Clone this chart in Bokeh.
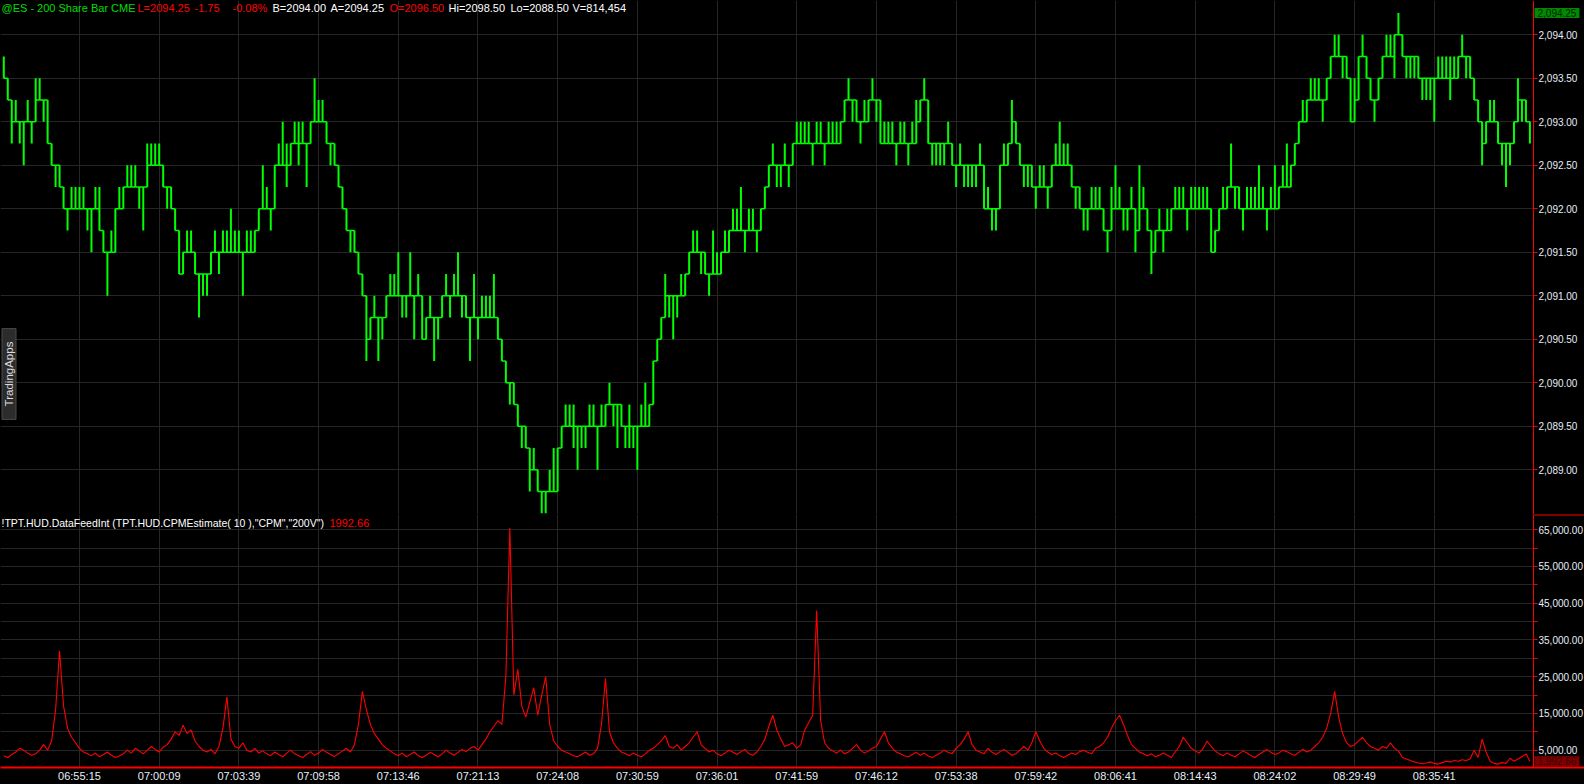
from math import pi
from bokeh.plotting import figure
from bokeh.models import Range1d, FixedTicker, NumeralTickFormatter, Label, ColumnDataSource
from bokeh.layouts import column
from bokeh.embed import file_html
from bokeh.resources import INLINE

# ---------------- data ----------------
BASE_PRICE = 2088.50      # price of tick level 0
TICK_SIZE = 0.25          # ES tick

# 200-share bars: low / high in ticks above BASE_PRICE
low_ticks = [
    20,19,17,18,17,16,18,17,19,19, 18,17,16,15,15,14,13,14,14,14,
    14,13,12,14,13,12,10,12,12,14, 14,15,15,15,14,13,16,16,16,16,
    15,14,14,13,11,11,12,12,11,9,  10,10,11,12,11,12,12,12,12,12,
    10,12,12,12,13,14,14,13,15,16, 16,15,16,17,16,17,15,17,18,18,
    18,17,16,16,15,14,13,12,12,11, 10,7,8,9,7,8,9,10,10,10,
    9,9,10,8,10,8,8,9,7,8,         9,10,9,10,10,9,9,7,9,8,
    9,9,9,9,8,7,6,5,5,4,
    3,3,1,2,1,0,0,1,1,1,           3,4,4,3,2,3,3,4,4,2,
    4,4,5,4,3,4,3,3,3,2,           4,4,4,6,7,8,10,9,8,9,
    10,10,11,12,12,11,11,10,11,11, 11,12,12,13,13,13,12,13,13,12,
    13,14,15,16,15,15,16,15,16,17, 17,17,17,16,17,17,16,17,17,17,
    17,18,19,18,18,17,18,18,19,18, 17,17,17,17,16,17,17,16,17,17,
    18,19,17,16,16,16,16,17,16,15, 16,15,15,15,15,16,14,14,13,13,
    15,16,16,18,17,16,15,
    15,15,14,15,15,14,15,16,16,16, 16,15,14,14,13,13,14,14,14,13,
    12,14,14,14,13,13,14,12,14,14, 13,11,12,13,12,13,13,14,14,14,
    13,14,14,14,14,14,12,12,13,14, 14,15,14,14,13,14,14,14,14,14,
    13,14,14,14,15,15,15,16,17,18, 18,19,19,19,18,19,20,21,21,20,
    20,18,18,19,21,20,19,18,19,20, 21,21,20,22,21,20,20,20,20,19,
    19,19,18,20,20,20,19,20,20,21, 20,20,19,18,16,17,18,18,17,16,
    15,16,17,19,18,18,17,
]
high_ticks = [
    21,20,18,19,18,18,19,18,20,20, 19,19,17,16,16,15,14,15,15,15,
    15,14,14,15,15,13,12,13,14,15, 15,16,16,16,15,15,17,17,17,17,
    16,15,15,14,13,12,13,13,12,11, 11,11,12,13,12,13,13,14,13,13,
    12,13,13,13,14,16,15,14,16,17, 18,17,17,18,18,18,17,18,20,19,
    19,18,17,17,16,15,14,13,13,12, 11,9,9,10,9,9,10,11,11,12,
    10,10,12,10,11,9,9,10,9,9,     10,11,10,11,12,10,10,9,11,9,
    10,10,10,11,9,8,7,6,6,5,
    4,4,2,3,2,1,1,2,3,3,           4,5,5,5,4,4,4,5,5,4,
    5,5,6,5,5,5,4,5,4,4,           5,6,5,7,8,9,11,10,10,10,
    11,11,12,13,13,12,12,11,13,12, 12,13,13,14,14,15,13,14,14,13,
    14,15,16,17,16,16,17,16,17,18, 18,18,18,17,18,18,17,18,18,18,
    18,19,20,19,19,18,19,19,20,19, 19,18,18,18,17,18,18,17,18,19,
    19,20,18,17,17,17,17,18,17,16, 17,16,16,16,16,17,15,15,14,14,
    16,17,17,19,18,17,16,
    16,16,15,16,16,15,16,17,18,17, 17,16,15,15,14,14,15,15,15,14,
    13,15,16,15,14,14,15,13,16,15, 14,12,13,14,13,14,14,15,15,15,
    14,15,15,15,15,15,13,13,14,15, 15,17,15,15,14,15,15,15,16,15,
    14,15,16,15,16,17,16,17,18,19, 19,20,20,20,19,20,21,22,22,21,
    21,19,20,21,22,21,20,19,20,21, 22,22,22,23,22,21,21,21,21,20,
    20,20,20,21,21,21,21,21,21,22, 21,21,20,19,17,18,19,19,18,17,
    17,17,18,20,19,19,18,
]

# CPM estimate per bar, in thousands
cpm_k = [
    3.5,3.0,3.8,4.5,5.5,5.0,4.2,3.6,4.0,5.0,
    6.5,5.0,7.5,16.0,32.0,17.0,11.0,8.5,7.0,5.5,
    4.5,4.0,3.5,4.2,3.2,3.8,4.5,3.6,3.0,3.4,
    4.0,5.0,4.2,5.5,4.8,4.0,5.0,6.0,5.2,4.5,
    5.8,6.5,8.0,10.0,9.0,11.8,9.5,10.5,7.5,6.0,
    5.0,4.5,5.2,4.0,6.0,11.0,19.5,8.0,6.0,5.5,
    7.0,5.0,4.5,5.5,4.2,4.8,4.0,3.5,4.5,3.8,
    3.2,4.2,5.0,4.0,3.5,3.0,3.8,4.6,3.6,4.2,
    5.2,4.4,3.8,3.3,4.0,4.8,5.5,4.5,6.5,12.0,
    21.0,16.0,12.0,9.5,8.0,6.5,5.5,4.8,4.0,3.5,
    4.2,3.2,3.8,4.5,3.5,3.0,3.6,4.4,3.8,3.2,
    4.0,5.0,4.2,3.6,4.4,5.2,4.6,5.5,6.0,5.0,
    6.5,8.0,10.0,11.5,13.0,12.0,25.0,65.5,20.0,27.0,
    17.0,14.0,18.0,22.0,14.5,20.0,25.0,12.0,7.5,6.0,
    5.0,4.5,4.0,3.5,3.2,3.8,4.5,3.6,4.0,5.5,
    12.0,24.5,10.0,7.0,5.5,4.5,4.0,3.5,4.2,3.6,
    3.2,4.0,5.0,5.5,6.5,7.5,9.0,6.0,5.5,6.5,
    5.0,6.0,7.0,8.5,10.0,6.5,5.5,4.5,5.0,4.0,
    3.5,4.2,5.0,4.4,3.8,4.6,5.2,4.0,3.6,4.5,
    6.0,8.0,11.5,14.5,10.5,8.0,6.0,6.5,7.0,5.5,
    6.5,10.5,12.5,14.5,43.0,13.0,7.0,5.5,4.8,4.2,
    5.0,4.0,4.5,5.5,6.5,5.0,4.2,4.8,5.5,6.0,
    8.0,10.0,7.0,5.5,4.5,4.0,3.5,3.2,3.8,4.4,
    3.6,4.2,3.4,3.0,3.6,4.2,5.0,4.4,4.0,5.5,
    6.5,8.0,10.0,6.5,5.0,4.5,4.0,5.5,4.4,3.8,
    4.6,5.2,4.4,3.6,4.0,5.0,6.0,5.0,7.0,10.0,
    7.5,5.5,4.5,3.8,4.2,3.5,3.0,3.6,4.2,3.8,
    4.6,5.0,4.4,4.0,5.5,6.0,7.0,8.5,11.0,13.0,
    14.5,12.0,9.0,6.5,5.5,4.5,4.0,3.5,4.0,3.2,
    3.6,4.2,3.6,3.0,4.5,6.0,8.5,7.0,5.5,4.8,
    4.2,5.5,7.5,6.0,4.8,4.0,3.5,4.2,3.6,3.2,
    4.0,4.8,4.2,3.5,3.0,3.8,4.5,5.2,4.4,3.8,
    4.2,5.0,4.6,4.0,3.6,4.4,5.2,4.5,5.0,6.0,
    7.0,8.5,11.0,15.0,21.0,14.0,9.5,7.0,6.0,6.5,
    7.5,8.5,7.0,6.0,5.5,5.0,6.0,5.5,7.0,5.5,
    4.8,3.0,2.6,2.2,1.8,1.5,1.3,1.5,1.8,1.4,
    1.2,1.6,2.0,1.8,2.2,2.0,2.4,2.2,2.6,5.0,
    3.0,8.0,4.5,2.0,1.4,1.2,1.6,1.4,2.8,2.0,
    2.6,3.2,4.0,1.99266,
]

time_labels = ["06:55:15", "07:00:09", "07:03:39", "07:09:58", "07:13:46", "07:21:13",
               "07:24:08", "07:30:59", "07:36:01", "07:41:59", "07:46:12", "07:53:38",
               "07:59:42", "08:06:41", "08:14:43", "08:24:02", "08:29:49", "08:35:41"]
time_label_bars = [19, 39, 59, 79, 99, 119, 139, 159, 179, 199, 219, 239, 259, 279, 299, 319, 339, 359]

price_ticks = [2089.0, 2089.5, 2090.0, 2090.5, 2091.0, 2091.5, 2092.0, 2092.5, 2093.0, 2093.5, 2094.0]
cpm_label_ticks = [5000, 15000, 25000, 35000, 45000, 55000, 65000]
cpm_minor_ticks = [10000, 20000, 30000, 40000, 50000, 60000]

last_price = 2094.25
last_cpm = 1992.66

# ---------------- derived geometry ----------------
n = len(low_ticks)
lows = [BASE_PRICE + TICK_SIZE * t for t in low_ticks]
highs = [BASE_PRICE + TICK_SIZE * t for t in high_ticks]
cpm = [v * 1000.0 for v in cpm_k]

vx, vy0, vy1 = [], [], []
hx0, hx1, hy = [], [], []
level = lows[0]
for i in range(n):
    lo, hi = lows[i], highs[i]
    if i + 1 < n:
        nlo, nhi = lows[i + 1], highs[i + 1]
        a, b = max(lo, nlo), min(hi, nhi)
        if a == b:
            ex = a
        elif a < b:
            ex = level if a <= level <= b else a
        elif nlo > hi:
            ex = hi
        else:
            ex = lo
    else:
        ex = level
    vx.append(i)
    vy0.append(min(lo, level)); vy1.append(max(hi, level))
    if i + 1 < n:
        hx0.append(i); hx1.append(i + 1); hy.append(ex)
    level = ex

vert_src = ColumnDataSource(dict(x=vx, y0=vy0, y1=vy1))
horz_src = ColumnDataSource(dict(x0=hx0, x1=hx1, y=hy))
cpm_src = ColumnDataSource(dict(x=list(range(n)), y=cpm))

# ---------------- layout / styling ----------------
FONT = "Liberation Sans"
GRID = "#262626"
AXIS_RED = "#ff0000"
LABEL_COL = "#e6eef6"
W = 1584
H1, H2 = 514, 253
AXIS_PX = 1533                      # pixel column of the price-scale line

X_START, AXIS_X = -0.825, 383.9     # data x at left edge / at the scale line
x_end = X_START + W * (AXIS_X - X_START) / AXIS_PX
xr = Range1d(X_START, x_end)
price_top, price_bot = 2094.394, 2088.486
cpm_top, cpm_bot = 69154, 276


def y_at(px, top, bot, h):
    """data y that lies px pixels below the top of a frame of height h"""
    return top - px / h * (top - bot)


def style(p):
    p.background_fill_color = "black"
    p.border_fill_color = "black"
    p.outline_line_color = None
    p.xgrid.ticker = FixedTicker(ticks=time_label_bars)
    p.xgrid.grid_line_color = GRID
    p.ygrid.grid_line_color = GRID
    ya = p.yaxis[0]
    ya.fixed_location = AXIS_X
    ya.axis_line_color = AXIS_RED
    ya.axis_line_width = 1
    ya.major_tick_line_color = AXIS_RED
    ya.major_tick_out = 4
    ya.major_tick_in = 0
    ya.minor_tick_line_color = AXIS_RED
    ya.minor_tick_out = 4
    ya.minor_tick_in = 0
    ya.major_label_standoff = 1
    ya.major_label_text_font = FONT
    ya.major_label_text_font_size = "10px"
    ya.major_label_text_color = LABEL_COL
    ya.formatter = NumeralTickFormatter(format="0,0.00")


def strip(p, top, bot):
    # black price-scale strip right of the axis line (hides the grid there)
    p.quad(left=AXIS_X, right=xr.end, bottom=bot, top=top,
           fill_color="black", line_color=None)


# --- price panel ---
p1 = figure(frame_width=W, frame_height=H1, x_range=xr,
            y_range=Range1d(price_bot, price_top), y_axis_location="right",
            x_axis_location=None, toolbar_location=None, output_backend="svg",
            min_border=0)
style(p1)
p1.yaxis.ticker = FixedTicker(ticks=price_ticks)
p1.segment(x0="x", y0="y0", x1="x", y1="y1", source=vert_src,
           line_color="#00ff00", line_width=2)
p1.segment(x0="x0", y0="y", x1="x1", y1="y", source=horz_src,
           line_color="#00ff00", line_width=1.5)
strip(p1, price_top, price_bot)

header = [("@ES - 200 Share Bar  CME", "#00dd00", 1),
          ("L=2094.25", "#ff0000", 137),
          ("-1.75", "#ff0000", 194),
          ("-0.08%", "#ff0000", 232),
          ("B=2094.00", "#ffffff", 272),
          ("A=2094.25", "#ffffff", 330),
          ("O=2096.50", "#ff0000", 389),
          ("Hi=2098.50", "#ffffff", 448),
          ("Lo=2088.50", "#ffffff", 510),
          ("V=814,454", "#ffffff", 572)]
hdr_y = y_at(7, price_top, price_bot, H1)
for txt, col, px in header:
    p1.add_layout(Label(x=xr.start, y=hdr_y, x_offset=px, text=txt,
                        text_color=col, text_font=FONT, text_font_size="11px",
                        text_baseline="middle", text_align="left"))

p1.add_layout(Label(x=xr.start, x_offset=8.5, y=y_at(373.5, price_top, price_bot, H1),
                    text="TradingApps", angle=pi / 2, text_align="center",
                    text_baseline="middle", text_color="#dcdcdc", text_font=FONT,
                    text_font_size="11.5px", background_fill_color="#2c2c2c",
                    border_line_color="#4a4a4a", padding=(13, 1)))

# last-price marker on the price scale
p1.add_layout(Label(x=AXIS_X, y=last_price, x_offset=1, text="2,094.25",
                    text_baseline="middle", text_align="left", text_color="#002200",
                    text_font=FONT, text_font_size="10px",
                    background_fill_color="#008a00", padding=(3, 1)))

# --- CPM panel ---
p2 = figure(frame_width=W, frame_height=H2, x_range=xr,
            y_range=Range1d(cpm_bot, cpm_top), y_axis_location="right",
            toolbar_location=None, output_backend="svg", min_border=0)
style(p2)
p2.yaxis.ticker = FixedTicker(ticks=cpm_label_ticks, minor_ticks=cpm_minor_ticks)
p2.ygrid.minor_grid_line_color = GRID
xa = p2.xaxis[0]
xa.ticker = FixedTicker(ticks=time_label_bars)
xa.major_label_overrides = {b: t for b, t in zip(time_label_bars, time_labels)}
xa.axis_line_color = AXIS_RED
xa.axis_line_width = 2
xa.major_tick_line_color = None
xa.minor_tick_line_color = None
xa.major_tick_out = 0
xa.major_tick_in = 0
xa.major_label_standoff = 2
xa.major_label_text_font = FONT
xa.major_label_text_font_size = "11px"
xa.major_label_text_color = LABEL_COL

p2.line(x="x", y="y", source=cpm_src, line_color="#ff0000", line_width=1.1)
strip(p2, cpm_top, cpm_bot)
p2.segment(x0=AXIS_X, x1=xr.end, y0=cpm_top, y1=cpm_top, line_color=AXIS_RED, line_width=2)

sub_y = y_at(8.5, cpm_top, cpm_bot, H2)
p2.add_layout(Label(x=xr.start, y=sub_y, x_offset=1,
                    text='!TPT.HUD.DataFeedInt (TPT.HUD.CPMEstimate( 10 ),"CPM","200V")',
                    text_color="#ffffff", text_font=FONT, text_font_size="10.5px",
                    text_baseline="middle", text_align="left"))
p2.add_layout(Label(x=xr.start, y=sub_y, x_offset=329, text="1992.66",
                    text_color="#ff0000", text_font=FONT, text_font_size="11px",
                    text_baseline="middle", text_align="left"))
p2.add_layout(Label(x=AXIS_X, y=last_cpm, x_offset=1, text="1,992.66",
                    text_baseline="middle", text_align="left", text_color="#3a0000",
                    text_font=FONT, text_font_size="10px",
                    background_fill_color="#800000", padding=(3, 1)))

layout = column(p1, p2, spacing=0, styles={"background-color": "black"})

open("out.html", "w").write(file_html(layout, INLINE))
